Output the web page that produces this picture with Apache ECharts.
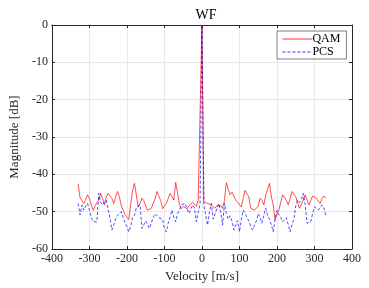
<!DOCTYPE html>
<html><head><meta charset="utf-8">
<script src="https://cdn.jsdelivr.net/npm/echarts@6/dist/echarts.min.js"></script>
<style>html,body{margin:0;padding:0;background:#fff}#c{width:369px;height:288px}</style>
</head><body><div id="c"></div>
<script>
const titleText = 'WF';
const xName = 'Velocity [m/s]';
const yName = 'Magnitude [dB]';
const seriesNames = ['QAM', 'PCS'];
const xTicks = [-400,-300,-200,-100,0,100,200,300,400];
const yTicks = [-60,-50,-40,-30,-20,-10,0];
const velocity = [
 -330,-325,-320,-315,-310,-305,-300,-295,-290,-285,-280,
 -275,-270,-265,-260,-255,-250,-245,-240,-235,-230,-225,
 -220,-215,-210,-205,-200,-195,-190,-185,-180,-175,-170,
 -165,-160,-155,-150,-145,-140,-135,-130,-125,-120,-115,
 -110,-105,-100,-95,-90,-85,-80,-75,-70,-65,-60,
 -55,-50,-45,-40,-35,-30,-25,-20,-15,-10,-5,
 0,
 5,10,15,20,25,30,35,40,45,50,55,
 60,65,70,75,80,85,90,95,100,105,110,
 115,120,125,130,135,140,145,150,155,160,165,
 170,175,180,185,190,195,200,205,210,215,220,
 225,230,235,240,245,250,255,260,265,270,275,
 280,285,290,295,300,305,310,315,320,325,330
];
const qam = [
 -42.6,-46.2,-45.8,-47.8,-46.8,-45.5,-46.5,-48.2,-49.6,-48.5,-47.5,
 -46.9,-45.1,-46.5,-48.2,-46.0,-45.1,-44.9,-46.5,-47.8,-46.0,-44.6,
 -46.0,-48.5,-49.6,-50.8,-51.5,-52.1,-48.0,-44.5,-42.4,-45.5,-48.7,
 -47.8,-46.4,-47.0,-48.5,-49.6,-49.4,-49.1,-48.6,-46.5,-44.6,-44.4,
 -47.0,-49.2,-48.7,-47.8,-46.5,-45.1,-46.0,-46.9,-42.2,-45.0,-48.0,
 -49.2,-48.6,-48.8,-49.2,-48.5,-48.0,-47.5,-47.8,-48.6,-47.0,-46.8,
 0,
 -47.3,-47.0,-47.8,-47.5,-48.2,-48.6,-49.1,-48.4,-48.7,-48.4,-49.1,
 -47.0,-42.2,-44.0,-45.5,-44.8,-44.6,-46.9,-47.5,-47.8,-48.7,-46.5,
 -44.3,-45.2,-46.0,-49.1,-49.3,-49.6,-49.6,-48.5,-46.4,-47.0,-48.2,
 -45.5,-44.0,-42.4,-46.0,-48.2,-52.2,-50.5,-49.6,-47.5,-45.5,-45.1,
 -47.0,-48.2,-46.5,-44.6,-45.3,-46.0,-47.5,-49.1,-48.0,-46.9,-45.5,
 -46.8,-48.2,-47.0,-45.8,-45.5,-46.4,-47.2,-47.8,-46.5,-45.8,-46.4
];
const pcs = [
 -47.8,-50.9,-48.2,-49.6,-48.5,-47.8,-49.5,-51.5,-52.7,-52.4,-52.7,
 -45.1,-47.5,-48.2,-47.5,-46.9,-49.5,-51.8,-54.9,-53.5,-52.0,-51.0,
 -50.5,-50.0,-51.5,-53.1,-54.0,-55.4,-54.0,-51.5,-50.9,-49.0,-48.7,
 -48.2,-54.5,-53.5,-52.5,-52.0,-54.5,-53.0,-51.6,-50.5,-51.0,-51.6,
 -51.8,-52.0,-54.5,-55.4,-53.1,-51.5,-49.6,-51.5,-52.7,-50.5,-49.6,
 -48.2,-48.5,-47.8,-49.0,-50.5,-49.5,-48.2,-49.0,-52.7,-52.5,-47.8,
 0,
 -48.2,-51.0,-53.6,-50.0,-47.8,-52.0,-50.5,-49.1,-47.8,-50.0,-53.6,
 -47.8,-50.5,-52.0,-51.1,-52.5,-54.9,-53.5,-52.4,-55.4,-52.0,-49.6,
 -50.5,-50.9,-52.5,-54.0,-54.9,-53.6,-52.5,-50.5,-51.5,-53.1,-51.0,
 -49.1,-51.0,-52.0,-53.5,-55.4,-52.0,-49.6,-50.9,-51.5,-52.7,-52.5,
 -51.6,-53.5,-55.4,-53.5,-52.0,-48.5,-46.9,-47.5,-46.9,-45.1,-48.0,
 -53.1,-53.5,-52.7,-50.5,-48.7,-49.2,-49.6,-48.8,-48.2,-49.0,-50.9
];

const font = 'Liberation Serif';
const axisCol = '#262626';
const chart = echarts.init(document.getElementById('c'), null, {renderer: 'canvas'});
const xMin = xTicks[0], xMax = xTicks[xTicks.length-1], xInt = xTicks[1]-xTicks[0];
const yMin = yTicks[0], yMax = yTicks[yTicks.length-1], yInt = yTicks[1]-yTicks[0];
const baseX = {
  type: 'value', min: xMin, max: xMax, interval: xInt,
  axisLine: {show: true, onZero: false, lineStyle: {color: axisCol, width: 1}},
  axisTick: {show: true, inside: true, length: 3, lineStyle: {color: axisCol}},
  splitLine: {show: false}
};
const baseY = {
  type: 'value', min: yMin, max: yMax, interval: yInt,
  axisLine: {show: true, onZero: false, lineStyle: {color: axisCol, width: 1}},
  axisTick: {show: true, inside: true, length: 3, lineStyle: {color: axisCol}},
  splitLine: {show: false}
};
chart.setOption({
  animation: false,
  backgroundColor: '#fff',
  title: {text: titleText, left: 201, top: 3, textAlign: 'center',
    textStyle: {fontFamily: font, fontSize: 14, fontWeight: 'normal', color: '#000'}},
  grid: {left: 49, right: 17, top: 25, bottom: 39, containLabel: false},
  legend: {
    orient: 'vertical', left: 277, top: 31, padding: [2, 6, 1, 5], itemGap: 1,
    itemWidth: 30, itemHeight: 9,
    itemStyle: {opacity: 0},
    lineStyle: {width: 0.8},
    backgroundColor: '#fff', borderColor: axisCol, borderWidth: 0.6, borderRadius: 0,
    textStyle: {fontFamily: font, fontSize: 12, color: '#000', padding: [0, 0, 0, -5]},
    data: seriesNames
  },
  xAxis: [
    Object.assign({}, baseX, {position: 'bottom', name: xName, nameLocation: 'middle', nameGap: 19,
      nameTextStyle: {fontFamily: font, fontSize: 13, color: '#262626'},
      axisLabel: {fontFamily: font, fontSize: 12, color: '#262626', margin: 4},
      splitLine: {show: true, lineStyle: {color: '#e8e8e8', width: 1}}}),
    Object.assign({}, baseX, {position: 'top', axisLabel: {show: false}})
  ],
  yAxis: [
    Object.assign({}, baseY, {position: 'left', name: yName, nameLocation: 'middle', nameGap: 26,
      nameTextStyle: {fontFamily: font, fontSize: 13, color: '#262626'},
      axisLabel: {fontFamily: font, fontSize: 12, color: '#262626', margin: 4},
      splitLine: {show: true, lineStyle: {color: '#e8e8e8', width: 1}}}),
    Object.assign({}, baseY, {position: 'right', axisLabel: {show: false}})
  ],
  series: [
    {name: seriesNames[0], type: 'line', symbol: 'none', xAxisIndex: 0, yAxisIndex: 0,
      data: velocity.map((v, i) => [v, qam[i]]),
      lineStyle: {color: '#ff0000', width: 0.7}, itemStyle: {color: '#ff0000'}},
    {name: seriesNames[1], type: 'line', symbol: 'none', xAxisIndex: 0, yAxisIndex: 0,
      data: velocity.map((v, i) => [v, pcs[i]]),
      lineStyle: {color: '#0000ff', width: 0.7, type: [3, 2]}, itemStyle: {color: '#0000ff'}}
  ]
});
</script></body></html>
